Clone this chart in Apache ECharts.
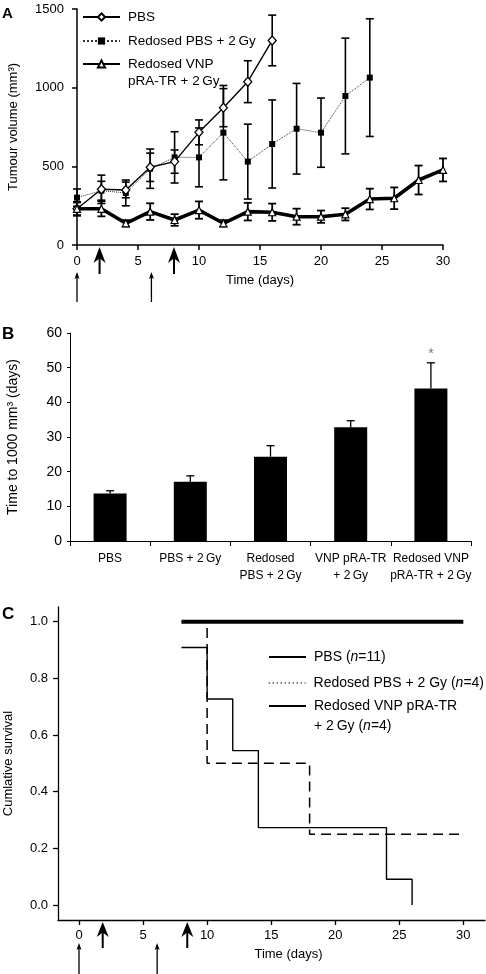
<!DOCTYPE html>
<html><head><meta charset="utf-8">
<script src="https://cdn.jsdelivr.net/npm/echarts@6/dist/echarts.min.js"></script>
<style>html,body{margin:0;padding:0;background:#fff}#c{width:486px;height:974px}</style>
</head><body><div id="c"></div>
<script>
// ---------- Panel A: tumour volume ----------
const daysPBS = [0, 2, 4, 6, 8, 10, 12, 14, 16];
const volPBS  = [230, 354, 350, 494, 530, 716, 873, 1038, 1300];
const errPBS  = [45, 90, 50, 90, 74, 79, 121, 133, 161];

const daysRed = [0, 2, 4, 6, 8, 10, 12, 14, 16, 18, 20, 22, 24];
const volRed  = [301, 345, 331, 485, 557, 557, 714, 530, 642, 739, 714, 947, 1064];
const errRed  = [55, 60, 82, 125, 163, 187, 300, 238, 280, 288, 220, 368, 374];

const daysVNP = [0, 2, 4, 6, 8, 10, 12, 14, 16, 18, 20, 22, 24, 26, 28, 30];
const volVNP  = [230, 230, 138, 212, 159, 222, 138, 212, 208, 180, 180, 195, 292, 297, 413, 477];
const errVNP  = [40, 48, 20, 53, 37, 55, 20, 56, 55, 51, 39, 39, 66, 69, 92, 73];

const namePBS_A = 'PBS';
const nameRed_A = 'Redosed PBS + 2\u2009Gy';
const nameVNP_A = 'Redosed VNP\npRA-TR + 2\u2009Gy';

// treatment arrows (days)
const bigArrowDaysA  = [1.85, 7.95];
const thinArrowDaysA = [0, 6.1];

// ---------- Panel B: time to 1000 mm3 ----------
const groupsB   = ['PBS', 'PBS + 2\u2009Gy', 'Redosed\nPBS + 2\u2009Gy', 'VNP pRA-TR\n+ 2\u2009Gy', 'Redosed VNP\npRA-TR + 2\u2009Gy'];
const timeTo1000 = [13.7, 17.1, 24.3, 32.8, 44.0];
const timeErr    = [0.8, 1.7, 3.2, 1.9, 7.4];
const sigMarks   = ['', '', '', '', '*'];

// ---------- Panel C: survival ----------
const survTimePBS = [8, 10, 12, 14, 24, 26];
const survPBS     = [0.909, 0.727, 0.545, 0.273, 0.091, 0];
const survTimeRed = [8, 10, 18, 30];
const survRed     = [1, 0.5, 0.25, 0.25];
const survTimeVNP = [8, 30];
const survVNP     = [1, 1];
const namePBS_C = 'PBS (n=11)';
const nameRed_C = 'Redosed PBS + 2 Gy (n=4)';
const nameVNP_C = 'Redosed VNP pRA-TR\n+ 2\u2009Gy (n=4)';
const ticksXC = [0, 5, 10, 15, 20, 25, 30];
const ticksYC = [0, 0.2, 0.4, 0.6, 0.8, 1.0];
const bigArrowDaysC  = [1.85, 8.45];
const thinArrowDaysC = [0, 6.1];

// ---------------------------------------------------------------
const FONT = '"Liberation Sans", Arial, Helvetica, sans-serif';
const zip = (a, b) => a.map((v, i) => [v, b[i]]);
const zip3 = (a, b, c) => a.map((v, i) => [v, b[i], c[i]]);

function errSeries(xs, ys, es, idx, lw) {
  return {
    type: 'custom', xAxisIndex: idx, yAxisIndex: idx, z: 2, silent: true,
    data: zip3(xs, ys, es),
    encode: { x: 0, y: 1 },
    renderItem: (p, api) => {
      const x = api.value(0), m = api.value(1), e = api.value(2);
      const t = api.coord([x, m + e]), b = api.coord([x, m - e]);
      const hw = 4, st = { stroke: '#000', lineWidth: lw };
      return { type: 'group', children: [
        { type: 'line', shape: { x1: t[0], y1: t[1], x2: b[0], y2: b[1] }, style: st },
        { type: 'line', shape: { x1: t[0] - hw, y1: t[1], x2: t[0] + hw, y2: t[1] }, style: st },
        { type: 'line', shape: { x1: b[0] - hw, y1: b[1], x2: b[0] + hw, y2: b[1] }, style: st }
      ]};
    }
  };
}

const axisBlack = (w) => ({ show: true, onZero: false, lineStyle: { color: '#000', width: w } });
const lbl = (size, margin) => ({ color: '#000', fontFamily: FONT, fontSize: size, margin: margin });

// one legend component per entry so each icon sits on the first text line
function legendItem(name, left, cy, size, lh, nLines, extra) {
  const lines = nLines > 1 ? nLines + 1 : 1;   // a blank first line keeps the icon on line 1
  return {
    orient: 'vertical', left: left, top: cy - lines * lh / 2, padding: 0,
    itemWidth: 37, itemHeight: 9, selectedMode: false,
    formatter: n => (nLines > 1 ? '\n' : '') + n.replace('(n=', '({i|n}='),
    textStyle: { color: '#000', fontFamily: FONT, fontSize: size, lineHeight: lh, padding: [0, 0, 0, 3],
      rich: { i: { fontStyle: 'italic', fontFamily: FONT, fontSize: size, lineHeight: lh, color: '#000' } } },
    data: [Object.assign({ name: name }, extra || {})]
  };
}

const chart = echarts.init(document.getElementById('c'), null, { renderer: 'canvas' });

const option = {
  animation: false,
  backgroundColor: '#fff',
  color: ['#000'],
  textStyle: { fontFamily: FONT },
  grid: [
    { left: 77, top: 9, width: 366, height: 236, outerBoundsMode: 'none', containLabel: false },
    { left: 70, top: 333, width: 401, height: 208, outerBoundsMode: 'none', containLabel: false },
    { left: 58, top: 607, width: 427, height: 313, outerBoundsMode: 'none', containLabel: false }
  ],
  xAxis: [
    { gridIndex: 0, type: 'value', min: 0, max: 30, interval: 5,
      axisLine: axisBlack(1.5), axisTick: { show: true, length: 5, lineStyle: { color: '#000', width: 1.5 } },
      axisLabel: lbl(13, 10), splitLine: { show: false },
      name: 'Time (days)', nameLocation: 'middle', nameGap: 29,
      nameTextStyle: { color: '#000', fontFamily: FONT, fontSize: 13 } },
    { gridIndex: 1, type: 'category', data: groupsB,
      axisLine: axisBlack(1), axisTick: { show: true, length: 5, lineStyle: { color: '#000', width: 1 } },
      axisLabel: Object.assign(lbl(12, 9), { lineHeight: 17, interval: 0 }) },
    { gridIndex: 2, type: 'value', min: -1.64, max: 31.69,
      axisLine: axisBlack(1.3),
      axisTick: { show: true, length: 5, customValues: ticksXC, lineStyle: { color: '#000', width: 1.3 } },
      axisLabel: Object.assign(lbl(13, 9), { customValues: ticksXC }), splitLine: { show: false },
      name: 'Time (days)', nameLocation: 'middle', nameGap: 28,
      nameTextStyle: { color: '#000', fontFamily: FONT, fontSize: 13, padding: [0, 0, 0, 34] } }
  ],
  yAxis: [
    { gridIndex: 0, type: 'value', min: 0, max: 1500, interval: 500,
      axisLine: axisBlack(1.5), axisTick: { show: true, length: 5, lineStyle: { color: '#000', width: 1.5 } },
      axisLabel: Object.assign(lbl(13, 13), { formatter: v => String(v) }), splitLine: { show: false },
      name: 'Tumour volume (mm\u00B3)', nameLocation: 'middle', nameGap: 57,
      nameTextStyle: { color: '#000', fontFamily: FONT, fontSize: 13 } },
    { gridIndex: 1, type: 'value', min: 0, max: 60, interval: 10,
      axisLine: axisBlack(1), axisTick: { show: true, length: 3, lineStyle: { color: '#000' } },
      axisLabel: lbl(14, 8), splitLine: { show: false },
      name: 'Time to 1000 mm\u00B3 (days)', nameLocation: 'middle', nameGap: 50,
      nameTextStyle: { color: '#000', fontFamily: FONT, fontSize: 14 } },
    { gridIndex: 2, type: 'value', min: -0.053, max: 1.052,
      axisLine: axisBlack(1.3),
      axisTick: { show: true, length: 5, customValues: ticksYC, lineStyle: { color: '#000', width: 1.3 } },
      axisLabel: Object.assign(lbl(13, 10), { customValues: ticksYC, formatter: v => v.toFixed(1) }),
      splitLine: { show: false },
      name: 'Cumlative survival', nameLocation: 'middle', nameGap: 43,
      nameTextStyle: { color: '#000', fontFamily: FONT, fontSize: 13 } }
  ],
  legend: [
    legendItem(namePBS_A, 82, 17, 13.5, 17, 1),
    legendItem(nameRed_A, 82, 41, 13.5, 17, 1),
    legendItem(nameVNP_A, 82, 64, 13.5, 17, 2),
    legendItem(namePBS_C, 268, 657, 14, 20, 1, { itemStyle: { opacity: 0 } }),
    legendItem(nameRed_C, 268, 683, 14, 20, 1, { itemStyle: { opacity: 0 }, lineStyle: { type: [1.5, 2.5], width: 1.2, color: '#000' } }),
    legendItem(nameVNP_C, 268, 706, 14, 20, 2, { itemStyle: { opacity: 0 } })
  ],
  series: [
    // Panel A
    errSeries(daysRed, volRed, errRed, 0, 1.6),
    errSeries(daysPBS, volPBS, errPBS, 0, 1.6),
    errSeries(daysVNP, volVNP, errVNP, 0, 1.8),
    { name: nameRed_A, type: 'line', xAxisIndex: 0, yAxisIndex: 0, z: 3,
      data: zip(daysRed, volRed), symbol: 'rect', symbolSize: 6, showAllSymbol: true,
      itemStyle: { color: '#000' }, lineStyle: { color: '#333', width: 1, type: 'dotted' } },
    { name: namePBS_A, type: 'line', xAxisIndex: 0, yAxisIndex: 0, z: 4,
      data: zip(daysPBS, volPBS), symbol: 'diamond', symbolSize: [8, 9], showAllSymbol: true,
      itemStyle: { color: '#fff', borderColor: '#000', borderWidth: 1.3 },
      lineStyle: { color: '#000', width: 1.4 } },
    { name: nameVNP_A, type: 'line', xAxisIndex: 0, yAxisIndex: 0, z: 5,
      data: zip(daysVNP, volVNP), symbol: 'triangle', symbolSize: 7, showAllSymbol: true,
      itemStyle: { color: '#fff', borderColor: '#000', borderWidth: 1.2 },
      lineStyle: { color: '#000', width: 3.6 } },
    // Panel B
    { type: 'bar', xAxisIndex: 1, yAxisIndex: 1, data: timeTo1000, barWidth: 33,
      itemStyle: { color: '#000' }, z: 2 },
    { type: 'custom', xAxisIndex: 1, yAxisIndex: 1, z: 3, silent: true,
      data: groupsB.map((g, i) => [i, timeTo1000[i], timeErr[i]]),
      encode: { x: 0, y: 1 },
      renderItem: (p, api) => {
        const i = api.value(0), m = api.value(1), e = api.value(2);
        const t = api.coord([i, m + e]), b = api.coord([i, m]);
        const st = { stroke: '#000', lineWidth: 1.3 };
        const ch = [
          { type: 'line', shape: { x1: t[0], y1: t[1], x2: b[0], y2: b[1] }, style: st },
          { type: 'line', shape: { x1: t[0] - 4, y1: t[1], x2: t[0] + 4, y2: t[1] }, style: st }
        ];
        const s = sigMarks[i];
        if (s) ch.push({ type: 'text', x: t[0], y: t[1] - 9,
          style: { text: s, fill: '#777', font: '14px ' + FONT, align: 'center', verticalAlign: 'middle' } });
        return { type: 'group', children: ch };
      } },
    // Panel C
    { name: namePBS_C, type: 'line', xAxisIndex: 2, yAxisIndex: 2, step: 'end', symbol: 'none', z: 3,
      data: zip(survTimePBS, survPBS), itemStyle: { color: '#000' }, lineStyle: { color: '#000', width: 1.4 } },
    { name: nameRed_C, type: 'line', xAxisIndex: 2, yAxisIndex: 2, step: 'end', symbol: 'none', z: 2,
      data: zip(survTimeRed, survRed), itemStyle: { color: '#000' }, lineStyle: { color: '#000', width: 1.5, type: [10, 6] } },
    { name: nameVNP_C, type: 'line', xAxisIndex: 2, yAxisIndex: 2, step: 'end', symbol: 'none', z: 4,
      data: zip(survTimeVNP, survVNP), itemStyle: { color: '#000' }, lineStyle: { color: '#000', width: 4 } }
  ]
};
chart.setOption(option);

// annotations: panel letters and treatment arrows
function bigArrow(x, yTip, yBot, h, w) {
  return [
    { type: 'line', shape: { x1: x, y1: yTip + h * 0.6, x2: x, y2: yBot }, style: { stroke: '#000', lineWidth: 2 } },
    { type: 'polygon', shape: { points: [[x, yTip], [x + w / 2, yTip + h], [x, yTip + h * 0.7], [x - w / 2, yTip + h]] },
      style: { fill: '#000' } }
  ];
}
function thinArrow(x, yTip, yBot) {
  return [
    { type: 'line', shape: { x1: x, y1: yTip + 2, x2: x, y2: yBot }, style: { stroke: '#000', lineWidth: 1.3 } },
    { type: 'polygon', shape: { points: [[x, yTip], [x + 2.5, yTip + 7], [x, yTip + 5.5], [x - 2.5, yTip + 7]] },
      style: { fill: '#000' } }
  ];
}
const g = [];
const xA = d => chart.convertToPixel({ xAxisIndex: 0 }, d);
const xC = d => chart.convertToPixel({ xAxisIndex: 2 }, d);
const axA = chart.convertToPixel({ yAxisIndex: 0 }, 0);
const axC = chart.convertToPixel({ yAxisIndex: 2 }, -0.053);
bigArrowDaysA.forEach(d => g.push(...bigArrow(xA(d), axA + 2, axA + 29, 16, 12)));
thinArrowDaysA.forEach(d => g.push(...thinArrow(xA(d), axA + 27, axA + 57)));
bigArrowDaysC.forEach(d => g.push(...bigArrow(xC(d), axC + 2, axC + 28, 15, 12)));
thinArrowDaysC.forEach(d => g.push(...thinArrow(xC(d), axC + 23, axC + 56)));
const letter = (t, x, y, s) => ({ type: 'text', x: x, y: y,
  style: { text: t, font: 'bold ' + s + 'px ' + FONT, fill: '#000', align: 'left', verticalAlign: 'middle' } });
g.push(letter('A', 2, 14, 15), letter('B', 2, 334, 17), letter('C', 2, 614, 17));
chart.setOption({ graphic: g });
</script>
</body></html>
